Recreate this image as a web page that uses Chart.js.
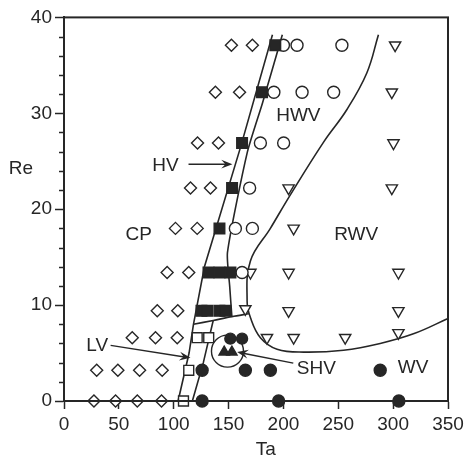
<!DOCTYPE html>
<html>
<head>
<meta charset="utf-8">
<script src="https://cdn.jsdelivr.net/npm/chart.js@4.4.0/dist/chart.umd.min.js"></script>
<style>
  html, body { margin: 0; padding: 0; background: #fff; }
  #wrap { width: 468px; height: 459px; }
</style>
</head>
<body>
<div id="wrap"><canvas id="chart" width="468" height="459"></canvas></div>
<script>
// Points, as [Ta, Re]
const cpPoints = [
  [152.6, 37.1], [171.7, 37.1],
  [138, 32.2], [160, 32.2],
  [121.7, 26.9], [140.8, 26.9],
  [115.3, 22.2], [133.5, 22.2],
  [101.6, 18], [121.4, 18],
  [94, 13.4], [113.7, 13.4],
  [85, 9.4], [103.7, 9.4],
  [62.2, 6.6], [83.4, 6.6], [103.2, 6.6],
  [29.8, 3.2], [49.1, 3.2], [68.9, 3.2], [89.5, 3.2],
  [27.3, 0], [47, 0], [66.8, 0], [88.9, 0]
];
const hvPoints = [
  [192.6, 37.1], [180.5, 32.2], [162.3, 26.9], [153.2, 22.2], [141.7, 18],
  [131.7, 13.4], [141.7, 13.4], [151.7, 13.4],
  [125.3, 9.4], [130.7, 9.4], [141.7, 9.4], [147.1, 9.4]
];
const lvPoints = [[121.4, 6.6], [131.9, 6.6], [113.7, 3.2], [108.9, 0]];
const hwvPoints = [
  [200, 37.1], [212.4, 37.1], [253.3, 37.1],
  [191.3, 32.2], [217, 32.2], [245.8, 32.2],
  [179, 26.9], [200.2, 26.9],
  [169.2, 22.2], [156.2, 18], [171.7, 18], [162.3, 13.4]
];
const rwvPoints = [
  [301.8, 37.1], [298.8, 32.2], [300.3, 26.9],
  [204.7, 22.2], [298.8, 22.2], [209.3, 18],
  [169.9, 13.4], [204.7, 13.4], [304.8, 13.4],
  [165.3, 9.6], [204.7, 9.4], [304.8, 9.4],
  [185, 6.6], [209.3, 6.6], [256.3, 6.6], [304.8, 7.1]
];
const wvPoints = [
  [125.9, 3.2], [165.3, 3.2], [188.1, 3.2], [288.2, 3.2],
  [125.9, 0], [195.6, 0], [305.2, 0]
];
const shvCircles = [[151.6, 6.5], [162.3, 6.5]];
const shvTriangles = [[146, 5.1], [153, 5.1]];
const shvRing = [[149, 5.2]];

// Regime boundaries, as [Ta, Re]
const bandLeft = [[104, 0], [114, 5], [118, 8], [128, 14], [161, 26.5], [190, 38.2]];
const bandRightUpper = [[199, 38.2], [181, 31.1], [167, 25.9], [149, 15.5], [151, 12], [153, 8.8]];
const bandRightLower = [[136, 8.4], [127, 4], [117, 0]];
const shelf = [[118, 8], [136, 8.4], [153, 8.8], [168.5, 9.1]];
const wavyBoundary = [
  [286.6, 38.2], [276, 34.2], [257.9, 30.4], [236.6, 27], [206.3, 21.5],
  [188.1, 18], [169.9, 14.6], [166.9, 10.4], [169.9, 8.7], [179, 6.6],
  [194.2, 5.4], [218.4, 5.1], [254.8, 5.3], [288.2, 6], [318.5, 7], [350, 8.6]
];

// axis ticks
const taTicks = [0, 50, 100, 150, 200, 250, 300, 350];
const reTicks = [0, 10, 20, 30, 40];
const reMinor = [2, 4, 6, 8, 12, 14, 16, 18, 22, 24, 26, 28, 32, 34, 36, 38];

// region names and arrows
const regionLabels = [
  ['CP', 68, 17.3], ['HV', 92.5, 24.5], ['HWV', 213.6, 29.7], ['RWV', 266.3, 17.3],
  ['LV', 30.2, 5.8], ['SHV', 230, 3.4], ['WV', 318.2, 3.5]
];
const arrows = [
  [[113.5, 24.7], [153.5, 24.7]],
  [[42.5, 5.8], [115.3, 4.5]],
  [[209, 3.95], [157.8, 5.1]]
];

const ink = '#262626';
const fontFamily = '"Liberation Sans", Arial, Helvetica, sans-serif';

const toXY = list => list.map(([x, y]) => ({ x, y }));

function markers(data, style, fill, radius, rotation) {
  return {
    type: 'scatter',
    data: toXY(data),
    pointStyle: style,
    pointRadius: radius,
    pointRotation: rotation || 0,
    pointBackgroundColor: fill,
    pointBorderColor: ink,
    pointBorderWidth: 1.4,
    clip: false,
    order: 1
  };
}

function curve(data, tension) {
  return {
    type: 'line',
    data: toXY(data),
    borderColor: ink,
    borderWidth: 1.6,
    pointRadius: 0,
    tension: tension,
    fill: false,
    clip: false,
    order: 5
  };
}

const decor = {
  id: 'decor',
  afterDraw(chart) {
    const { ctx, chartArea: a, scales: { x, y } } = chart;
    ctx.save();
    // frame
    ctx.strokeStyle = ink;
    ctx.lineWidth = 2;
    ctx.strokeRect(a.left, a.top, a.right - a.left, a.bottom - a.top);
    // minor ticks on Re axis
    ctx.lineWidth = 1.5;
    reMinor.forEach(v => {
      const py = Math.round(y.getPixelForValue(v)) + 0.5;
      ctx.beginPath();
      ctx.moveTo(a.left - 5, py);
      ctx.lineTo(a.left, py);
      ctx.stroke();
    });
    // region labels
    ctx.fillStyle = ink;
    ctx.font = '19px ' + fontFamily;
    ctx.textAlign = 'center';
    ctx.textBaseline = 'middle';
    regionLabels.forEach(([t, ta, re]) => {
      ctx.fillText(t, x.getPixelForValue(ta), y.getPixelForValue(re));
    });
    // axis titles
    ctx.fillText('Re', a.left - 43, y.getPixelForValue(24.2));
    ctx.fillText('Ta', x.getPixelForValue(184), 450);
    // arrows
    ctx.lineWidth = 1.5;
    arrows.forEach(([from, to]) => {
      const x0 = x.getPixelForValue(from[0]), y0 = y.getPixelForValue(from[1]);
      const x1 = x.getPixelForValue(to[0]), y1 = y.getPixelForValue(to[1]);
      const ang = Math.atan2(y1 - y0, x1 - x0);
      ctx.beginPath();
      ctx.moveTo(x0, y0);
      ctx.lineTo(x1 - 6 * Math.cos(ang), y1 - 6 * Math.sin(ang));
      ctx.stroke();
      ctx.beginPath();
      ctx.moveTo(x1, y1);
      ctx.lineTo(x1 - 12 * Math.cos(ang - 0.38), y1 - 12 * Math.sin(ang - 0.38));
      ctx.lineTo(x1 - 7 * Math.cos(ang), y1 - 7 * Math.sin(ang));
      ctx.lineTo(x1 - 12 * Math.cos(ang + 0.38), y1 - 12 * Math.sin(ang + 0.38));
      ctx.closePath();
      ctx.fill();
    });
    ctx.restore();
  }
};

new Chart(document.getElementById('chart'), {
  data: {
    datasets: [
      markers(shvTriangles, 'triangle', ink, 6),
      markers(shvCircles, 'circle', ink, 5.5),
      markers(wvPoints, 'circle', ink, 6),
      markers(hvPoints, 'rect', ink, 7.5),
      markers(lvPoints, 'rect', '#fff', 7),
      markers(hwvPoints, 'circle', '#fff', 6),
      markers(rwvPoints, 'triangle', '#fff', 6.5, 180),
      markers(cpPoints, 'rectRot', '#fff', 6),
      Object.assign(markers(shvRing, 'circle', 'rgba(0,0,0,0)', 16), { order: 3 }),
      curve(bandLeft, 0),
      curve(bandRightUpper, 0.2),
      curve(bandRightLower, 0),
      curve(shelf, 0.3),
      curve(wavyBoundary, 0.4)
    ]
  },
  options: {
    responsive: false,
    animation: false,
    devicePixelRatio: 1,
    layout: { padding: { top: 14, right: 20, left: 0, bottom: 0 } },
    plugins: { legend: { display: false }, tooltip: { enabled: false } },
    scales: {
      x: {
        type: 'linear',
        min: 0,
        max: 350,
        afterFit: s => { s.height = 58; },
        afterBuildTicks: s => { s.ticks = taTicks.map(v => ({ value: v })); },
        ticks: { color: ink, font: { family: fontFamily, size: 19 }, padding: 4, maxRotation: 0 },
        grid: { drawOnChartArea: false, tickLength: 8, tickColor: ink, tickWidth: 1.5 },
        border: { color: ink, width: 2 }
      },
      y: {
        type: 'linear',
        min: 0,
        max: 40,
        afterFit: s => { s.width = 64; },
        afterBuildTicks: s => { s.ticks = reTicks.map(v => ({ value: v })); },
        ticks: { color: ink, font: { family: fontFamily, size: 19 }, padding: 3 },
        grid: { drawOnChartArea: false, tickLength: 9, tickColor: ink, tickWidth: 1.5 },
        border: { color: ink, width: 2 }
      }
    }
  },
  plugins: [decor]
});
</script>
</body>
</html>
